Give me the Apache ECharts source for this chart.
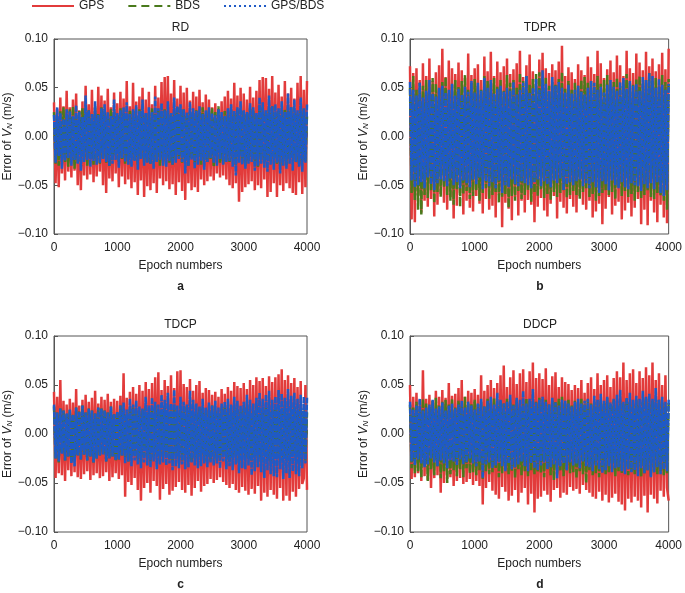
<!DOCTYPE html>
<html>
<head>
<meta charset="utf-8">
<script src="https://cdn.jsdelivr.net/npm/echarts@6/dist/echarts.min.js"></script>
<style>
  html, body { margin: 0; padding: 0; background: #fff; }
  #chart { width: 685px; height: 593px; }
</style>
</head>
<body>
<div id="chart"></div>
<script>
// epoch step between stored samples
var STEP = 25;
var xTicks = [0, 1000, 2000, 3000, 4000];
var yTicks = [-0.1, -0.05, 0, 0.05, 0.1];
var panelTitles = ["RD", "TDPR", "TDCP", "DDCP"];
var panelLetters = ["a", "b", "c", "d"];
var seriesNames = ["GPS", "BDS", "GPS/BDS"];

// errors in mm/s (one sample every 25 epochs)
var rdGps = [
  35,-48,28,-52,40,-38,31,-45,47,-36, 30,-42,38,-35,44,-50,27,-55,36,-40,
  52,-44,33,-39,48,-47,29,-41,51,-36, 42,-50,37,-58,49,-43,30,-46,45,-38,
  34,-52,46,-41,39,-49,57,-44,31,-53, 55,-47,36,-60,41,-45,50,-62,38,-51,
  46,-55,33,-48,52,-58,40,-43,56,-50, 61,-46,62,-54,44,-49,58,-60,39,-47,
  52,-56,45,-65,50,-48,37,-55,46,-52, 41,-57,48,-44,35,-50,43,-46,38,-41,
  30,-45,34,-38,28,-42,36,-40,41,-44, 47,-50,39,-53,55,-48,42,-67,50,-57,
  44,-52,38,-49,51,-46,40,-55,47,-50, 58,-53,61,-44,60,-62,49,-57,62,-48,
  45,-62,53,-50,41,-56,57,-48,44,-53, 50,-58,39,-60,55,-47,62,-59,48,-52, 57];
var rdBds = [
  25,-28,18,-30,27,-22,30,-26,20,-31, 28,-24,31,-33,22,-27,26,-25,29,-21,
  24,-30,27,-23,19,-29,31,-26,23,-28, 30,-22,26,-27,21,-31,28,-24,25,-20,
  22,-26,29,-23,24,-28,20,-25,27,-22, 26,-24,21,-29,28,-23,25,-27,22,-26,
  24,-28,29,-22,23,-26,27,-30,21,-25, 28,-23,26,-27,22,-29,25,-24,30,-21,
  23,-27,28,-25,21,-30,26,-22,24,-28, 27,-21,23,-29,30,-24,22,-26,28,-23,
  29,-31,25,-22,31,-27,20,-28,26,-24, 22,-26,27,-23,24,-29,28,-22,21,-27,
  26,-30,23,-25,29,-21,27,-28,22,-31, 28,-24,30,-27,25,-22,29,-26,31,-23,
  24,-28,26,-30,22,-25,28,-29,27,-24, 30,-22,25,-27,23,-29,26,-24,28,-25, 22];
var rdMix = [
  22,-27,30,-20,24,-33,18,-25,28,-22, 26,-30,21,-24,32,-28,25,-35,20,-26,
  42,-24,27,-31,23,-25,36,-29,22,-27, 29,-23,33,-26,25,-30,21,-28,38,-24,
  24,-32,27,-22,30,-26,35,-29,23,-31, 28,-25,32,-34,26,-23,38,-30,24,-27,
  30,-28,25,-33,41,-26,29,-24,34,-30, 27,-31,36,-25,24,-29,40,-27,31,-23,
  33,-26,28,-38,25,-30,35,-24,29,-33, 26,-29,31,-25,23,-34,27,-26,30,-22,
  24,-27,22,-30,28,-23,25,-29,21,-26, 29,-25,33,-31,26,-40,30,-27,36,-29,
  27,-33,25,-28,34,-26,30,-35,24,-30, 40,-28,35,-32,27,-36,42,-29,31,-34,
  33,-27,29,-38,36,-30,25,-33,44,-28, 30,-35,38,-26,27,-31,40,-36,29,-27, 33];

var tdprGps = [
  72,-85,65,-88,70,-60,58,-78,75,-66, 62,-72,80,-64,57,-82,66,-70,73,-59,
  90,-68,61,-75,78,-62,70,-84,64,-71, 76,-58,68,-80,60,-66,85,-73,63,-77,
  70,-61,74,-69,58,-79,82,-64,67,-75, 87,-71,62,-83,77,-60,66,-93,72,-68,
  80,-74,64,-86,69,-62,75,-81,88,-66, 61,-78,73,-65,84,-70,67,-88,59,-72,
  79,-63,86,-76,70,-82,65,-69,74,-61, 68,-84,77,-67,93,-73,62,-79,71,-64,
  66,-72,59,-78,74,-61,68,-70,63,-75, 82,-66,71,-83,64,-77,88,-69,75,-90,
  60,-74,69,-62,78,-80,66,-71,83,-67, 73,-85,62,-76,88,-68,70,-82,65,-73,
  85,-64,76,-90,68,-75,87,-91,72,-66, 80,-78,67,-88,74,-70,86,-83,69,-89, 90];
var tdprBds = [
  50,-58,62,-65,48,-75,55,-80,52,-60, 58,-63,47,-55,60,-68,54,-57,49,-62,
  56,-52,61,-60,45,-66,53,-70,58,-54, 51,-72,57,-59,63,-56,48,-64,55,-61,
  59,-55,52,-66,48,-58,62,-53,57,-64, 54,-60,60,-57,51,-68,58,-62,47,-59,
  63,-73,55,-61,58,-66,50,-56,65,-64, 57,-60,62,-55,53,-67,59,-58,64,-61,
  66,-54,58,-63,61,-59,52,-65,56,-57, 53,-62,59,-58,66,-55,50,-63,57,-60,
  48,-56,55,-60,52,-64,58,-57,61,-53, 55,-62,57,-59,51,-66,62,-61,54,-58,
  58,-55,63,-60,49,-57,56,-64,60,-52, 52,-61,58,-56,64,-62,55,-59,53,-66,
  59,-57,62,-63,54,-60,58,-55,65,-62, 57,-64,60,-58,52,-61,63,-66,56,-75, 59];
var tdprMix = [
  56,-45,48,-52,42,-50,55,-47,40,-53, 47,-42,58,-49,44,-55,41,-48,50,-44,
  52,-46,45,-51,48,-43,54,-50,42,-47, 49,-53,43,-45,51,-48,46,-52,57,-44,
  45,-49,55,-42,47,-54,60,-46,50,-51, 58,-47,44,-53,49,-45,52,-58,46,-50,
  50,-52,47,-44,56,-49,43,-51,48,-46, 55,-48,62,-50,45,-53,50,-47,59,-44,
  48,-51,68,-46,54,-49,47,-52,61,-45, 52,-48,56,-43,50,-55,45,-49,53,-47,
  44,-50,48,-46,52,-44,46,-51,43,-48, 50,-53,57,-47,55,-52,48,-58,51,-46,
  45,-49,53,-55,58,-45,51,-50,47,-53, 56,-47,60,-52,49,-54,57,-48,52,-50,
  54,-51,47,-56,61,-49,58,-53,65,-48, 62,-54,50,-47,59,-58,53,-61,48,-55, 54];

var tdcpGps = [
  43,-45,38,-40,55,-42,34,-48,30,-37, 36,-43,32,-39,46,-44,29,-46,35,-41,
  40,-38,33,-47,37,-42,44,-40,31,-45, 38,-43,35,-39,41,-48,33,-44,36,-40,
  34,-46,39,-42,62,-64,37,-49,43,-52, 48,-45,41,-57,50,-68,44,-55,53,-50,
  46,-60,52,-48,58,-53,63,-67,45,-56, 55,-51,49,-62,60,-58,47,-54,64,-49,
  65,-57,51,-60,48,-52,56,-63,44,-55, 50,-48,54,-59,42,-53,47,-51,45,-46,
  40,-50,43,-47,38,-44,46,-49,41,-52, 48,-55,44,-51,53,-57,49,-60,47,-54,
  52,-58,46,-62,55,-56,50,-61,58,-53, 54,-68,57,-60,49,-64,59,-57,53,-62,
  58,-66,61,-55,66,-68,55,-63,60,-68, 52,-59,57,-64,48,-56,54,-51,-45,50, -57];
var tdcpBds = [
  28,-25,22,-30,26,-20,24,-27,21,-23, 25,-28,20,-24,27,-22,23,-26,29,-21,
  22,-27,26,-23,24,-29,21,-25,27,-22, 26,-21,24,-28,22,-25,28,-23,20,-27,
  23,-26,29,-22,25,-24,21,-28,26,-23, 27,-22,24,-26,21,-29,25,-23,28,-25,
  22,-28,26,-24,29,-21,23,-27,25,-22, 28,-24,21,-26,24,-28,27,-22,22,-25,
  25,-27,23,-21,28,-26,24,-29,21,-24, 23,-25,27,-22,26,-28,22,-24,25,-27,
  29,-23,24,-27,21,-25,26,-22,28,-26, 24,-28,22,-25,27,-23,25,-29,23,-21,
  26,-24,28,-26,22,-27,24,-23,29,-25, 21,-29,25,-22,27,-26,23,-28,26,-24,
  28,-23,24,-27,22,-25,29,-26,21,-28, 25,-22,27,-24,23,-29,26,-21,24,-27, 22];
var tdcpMix = [
  30,-25,22,-28,26,-20,24,-27,21,-23, 25,-30,20,-33,27,-22,23,-26,29,-21,
  22,-27,26,-23,24,-29,21,-25,27,-22, 26,-21,24,-28,22,-25,28,-23,20,-27,
  23,-26,29,-22,32,-30,25,-28,36,-33, 30,-27,34,-31,28,-35,26,-29,38,-32,
  29,-34,37,-28,33,-36,30,-31,40,-29, 35,-32,42,-30,31,-37,45,-33,29,-35,
  38,-31,33,-36,30,-34,44,-29,35,-32, 31,-35,28,-33,36,-30,27,-34,32,-29,
  29,-32,34,-30,27,-35,31,-28,33,-36, 36,-33,30,-37,38,-31,34,-40,29,-35,
  33,-36,40,-32,35,-42,31,-38,37,-34, 42,-39,36,-45,40,-37,44,-41,35,-43,
  38,-44,45,-36,41,-46,37,-40,46,-45, 39,-38,42,-41,36,-43,40,-35,38,-30, 37];

var ddcpGps = [
  50,-46,38,-44,42,-40,35,-48,65,-43, 36,-47,40,-55,34,-45,44,-42,38,-60,
  45,-50,37,-46,52,-44,39,-53,41,-48, 47,-45,55,-51,38,-49,44,-46,42,-52,
  46,-48,40,-53,60,-72,44,-55,50,-49, 55,-58,47,-62,52,-66,60,-54,70,-59,
  48,-68,58,-63,65,-57,51,-70,62,-60, 66,-55,53,-72,64,-61,73,-80,57,-66,
  62,-64,56,-58,67,-62,50,-69,59,-57, 63,-55,48,-65,58,-60,53,-62,51,-54,
  45,-58,50,-56,47,-61,55,-52,42,-57, 52,-60,58,-64,46,-66,62,-59,50,-68,
  55,-62,60,-70,48,-65,57,-61,64,-69, 58,-72,73,-78,55,-66,62,-70,66,-64,
  52,-68,64,-75,57,-63,68,-80,60,-62, 73,-66,55,-71,62,-58,50,-64,60,-55, -68];
var ddcpBds = [
  30,-35,27,-40,33,-38,25,-44,36,-32, 31,-48,28,-36,34,-42,37,-33,29,-45,
  33,-38,35,-50,30,-41,36,-37,27,-43, 34,-36,29,-44,38,-35,32,-40,31,-39,
  35,-42,30,-37,33,-46,28,-38,36,-41, 32,-39,37,-35,29,-44,34,-40,31,-37,
  36,-41,33,-38,30,-45,35,-36,28,-42, 31,-38,36,-43,34,-37,29,-41,33,-39,
  37,-40,32,-44,35,-36,30,-42,34,-47, 33,-41,36,-38,38,-43,31,-37,35,-40,
  29,-39,34,-45,32,-38,36,-41,30,-50, 35,-37,31,-42,33,-40,28,-44,34,-38,
  32,-41,37,-39,30,-36,35,-43,29,-38, 34,-40,31,-37,36,-42,33,-39,30,-41,
  35,-38,29,-44,33,-40,36,-37,31,-43, 34,-39,30,-41,35,-38,32,-42,28,-40, 33];
var ddcpMix = [
  33,-28,25,-32,29,-26,36,-30,24,-34, 27,-31,30,-25,35,-29,26,-33,28,-27,
  32,-30,24,-35,29,-27,31,-28,26,-32, 30,-26,34,-31,27,-29,33,-25,29,-30,
  25,-33,31,-28,36,-45,28,-31,34,-29, 38,-35,30,-32,42,-29,35,-33,31,-38,
  33,-30,40,-36,29,-34,37,-31,35,-28, 44,-33,31,-38,36,-30,46,-35,32,-37,
  35,-32,38,-29,33,-36,30,-34,37,-31, 32,-45,29,-33,35,-30,34,-37,31,-29,
  28,-32,33,-30,36,-35,31,-28,34,-33, 36,-34,30,-38,39,-32,35,-36,41,-40,
  34,-37,38,-33,32,-39,36,-35,40,-34, 45,-38,33,-41,37,-36,42,-39,35,-37,
  39,-43,36,-35,44,-40,38,-37,41,-44, 36,-39,47,-34,35,-41,38,-36,33,-38, 35];

var panels = [
  [rdGps, rdBds, rdMix],
  [tdprGps, tdprBds, tdprMix],
  [tdcpGps, tdcpBds, tdcpMix],
  [ddcpGps, ddcpBds, ddcpMix]
];

var FONT = "'Liberation Sans', Arial, sans-serif";
var AXIS_COLOR = "#555";
var COLORS = ["#e23b3b", "#4a7a1c", "#1f5ac6"];
var lineStyles = [
  { color: COLORS[0], width: 2.5, type: "solid" },
  { color: COLORS[1], width: 2.5, type: [8, 2] },
  { color: COLORS[2], width: 2.5, type: [6, 1] }
];

// plot boxes: [left, top, width, height]
var boxes = [
  [54, 39, 253, 195],
  [410, 39, 260, 195],
  [54, 336, 253, 196],
  [410, 336, 260, 196]
];

function fmtY(v) {
  var s = Math.abs(v).toFixed(2);
  return v < -1e-9 ? "\u2212" + s : s;
}

var grids = [], xAxes = [], yAxes = [], series = [], titles = [];
boxes.forEach(function (b, p) {
  grids.push({
    left: b[0], top: b[1], width: b[2], height: b[3],
    show: true, borderColor: AXIS_COLOR, borderWidth: 1, backgroundColor: "transparent"
  });
  xAxes.push({
    gridIndex: p, type: "value",
    min: xTicks[0], max: xTicks[xTicks.length - 1], interval: xTicks[1] - xTicks[0],
    name: "Epoch numbers", nameLocation: "middle", nameGap: 26,
    nameTextStyle: { fontFamily: FONT, fontSize: 12, color: "#222" },
    axisLine: { show: true, lineStyle: { color: AXIS_COLOR } },
    axisTick: { show: true, inside: true, length: 4, lineStyle: { color: AXIS_COLOR } },
    axisLabel: { fontFamily: FONT, fontSize: 12, color: "#222", margin: 8,
      formatter: function (v) { return String(v); } },
    splitLine: { show: false }
  });
  yAxes.push({
    gridIndex: p, type: "value",
    min: yTicks[0], max: yTicks[yTicks.length - 1], interval: 0.05,
    name: "{t|Error of }{v|V}{n|N}{t| (m/s)}", nameLocation: "middle", nameGap: 38,
    nameTextStyle: {
      rich: {
        t: { fontFamily: FONT, fontSize: 12, color: "#222" },
        v: { fontFamily: FONT, fontSize: 12, color: "#222", fontStyle: "italic" },
        n: { fontFamily: FONT, fontSize: 8, color: "#222", fontStyle: "italic", padding: [5, 0, 0, 0] }
      }
    },
    axisLine: { show: true, lineStyle: { color: AXIS_COLOR } },
    axisTick: { show: true, inside: true, length: 4, lineStyle: { color: AXIS_COLOR } },
    axisLabel: { fontFamily: FONT, fontSize: 12, color: "#222", margin: 6, formatter: fmtY },
    splitLine: { show: false }
  });
  panels[p].forEach(function (vals, k) {
    series.push({
      name: seriesNames[k], type: "line",
      xAxisIndex: p, yAxisIndex: p,
      symbol: "none", showSymbol: false,
      itemStyle: { color: COLORS[k] },
      lineStyle: lineStyles[k],
      data: vals.map(function (v, i) { return [i * STEP, v / 1000]; })
    });
  });
  var cx = b[0] + b[2] / 2;
  titles.push({
    text: panelTitles[p], left: cx, top: b[1] - 17, textAlign: "center", padding: 0,
    textStyle: { fontFamily: FONT, fontSize: 12, fontWeight: "normal", color: "#222" }
  });
  titles.push({
    text: panelLetters[p], left: cx, top: b[1] + b[3] + 47, textAlign: "center", padding: 0,
    textStyle: { fontFamily: FONT, fontSize: 12, fontWeight: "bold", color: "#222" }
  });
});

var option = {
  animation: false,
  backgroundColor: "#fff",
  title: titles,
  legend: {
    left: 31, top: 0, padding: 0, itemWidth: 42, itemHeight: 12, itemGap: 23,
    textStyle: { fontFamily: FONT, fontSize: 12, color: "#222" },
    itemStyle: { opacity: 0 },
    data: [
      { name: "GPS", itemStyle: { opacity: 0 }, lineStyle: { color: COLORS[0], width: 2, type: "solid" } },
      { name: "BDS", itemStyle: { opacity: 0 }, lineStyle: { color: COLORS[1], width: 2, type: [8, 5] } },
      { name: "GPS/BDS", itemStyle: { opacity: 0 }, lineStyle: { color: COLORS[2], width: 2, type: [2, 3] } }
    ]
  },
  grid: grids,
  xAxis: xAxes,
  yAxis: yAxes,
  series: series
};

var myChart = echarts.init(document.getElementById("chart"));
myChart.setOption(option, true);
</script>
</body>
</html>
